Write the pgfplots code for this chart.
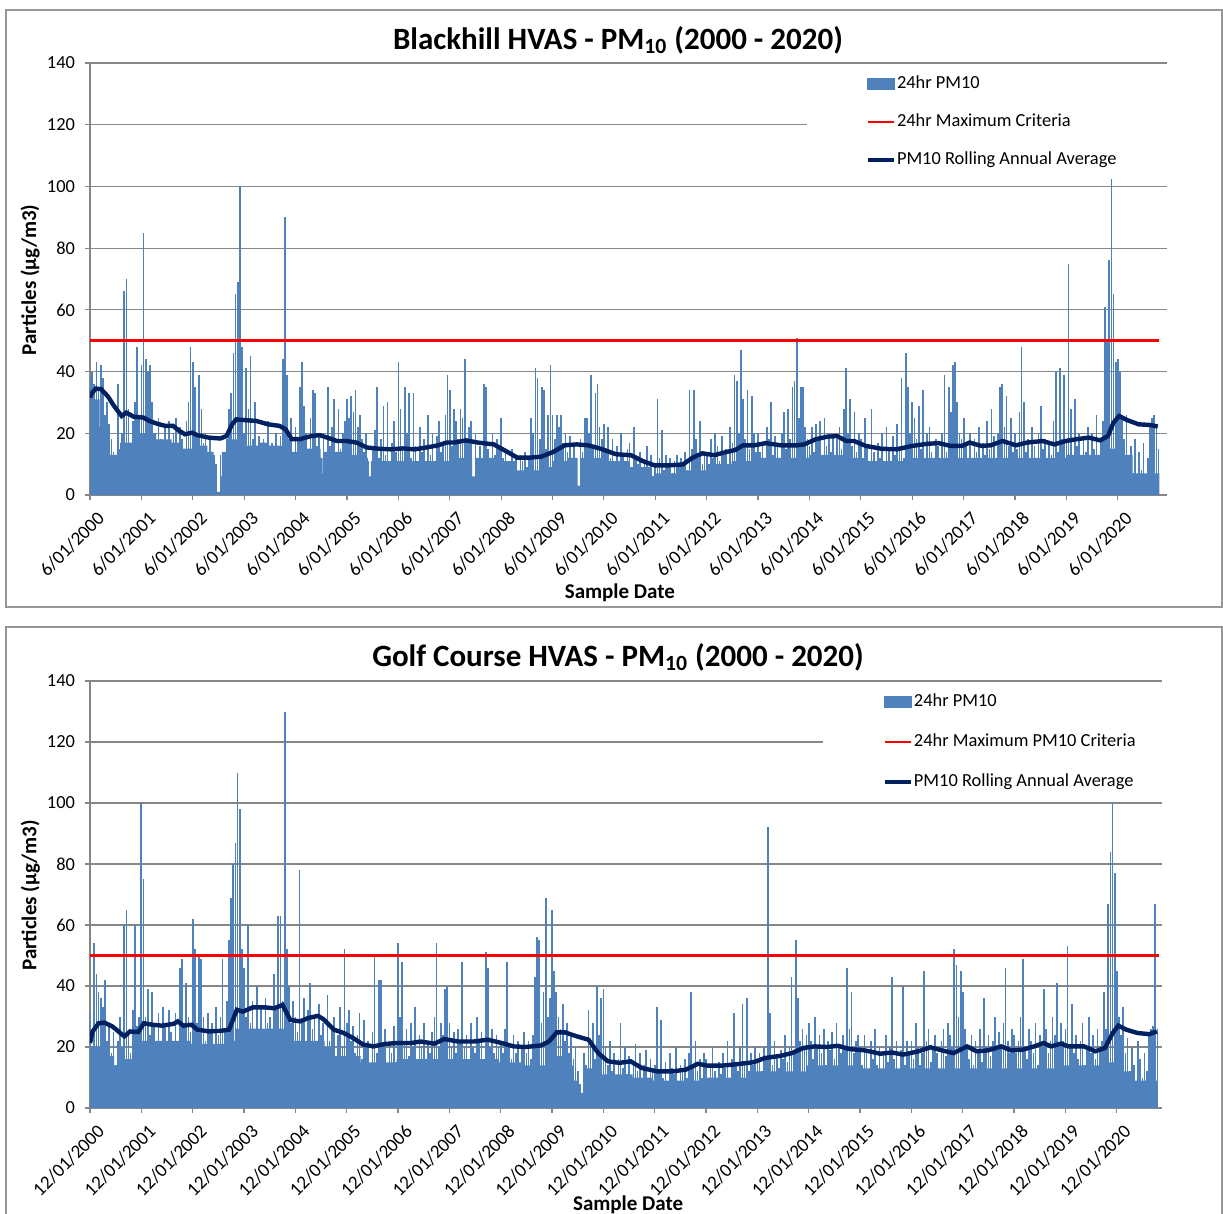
\documentclass[border=0pt]{standalone}
\usepackage{pgfplots}
\pgfplotsset{compat=1.18}
\usepackage{pgfplotstable}
\usepackage{fontspec}
\setmainfont{Carlito}
\definecolor{barblue}{RGB}{79,129,189}
\definecolor{navy}{RGB}{0,32,96}
\definecolor{gridgray}{RGB}{134,134,134}
\definecolor{framegray}{RGB}{150,150,150}

% Blackhill 24hr PM10, 24 samples per year from 6/01/2000
\pgfplotstableread[row sep=\\,header=false]{
38\\40\\36\\43\\35\\42\\38\\26\\30\\23\\18\\14\\12\\36\\15\\20\\66\\70\\28\\14\\24\\30\\48\\26\\
42\\85\\44\\40\\42\\30\\20\\14\\25\\18\\10\\22\\16\\24\\12\\20\\25\\14\\22\\18\\11\\24\\30\\48\\
43\\35\\20\\39\\28\\17\\20\\14\\18\\12\\13\\10\\0\\13\\11\\8\\18\\28\\33\\46\\65\\69\\100\\48\\
0\\41\\28\\45\\18\\30\\14\\19\\13\\18\\15\\24\\12\\17\\11\\20\\14\\19\\44\\90\\39\\18\\25\\14\\
22\\18\\35\\43\\29\\20\\14\\25\\34\\33\\16\\20\\12\\18\\7\\35\\16\\22\\31\\13\\28\\15\\20\\24\\
31\\25\\32\\27\\34\\22\\26\\18\\14\\20\\11\\5\\15\\21\\35\\12\\18\\29\\13\\30\\10\\17\\24\\14\\
43\\28\\15\\35\\20\\33\\12\\33\\16\\10\\22\\14\\18\\8\\26\\13\\20\\11\\19\\24\\14\\17\\26\\39\\
34\\16\\28\\24\\18\\28\\25\\44\\18\\22\\24\\5\\20\\10\\16\\12\\36\\35\\15\\8\\20\\13\\18\\16\\
25\\12\\14\\8\\10\\15\\9\\12\\6\\13\\11\\14\\9\\12\\25\\20\\41\\38\\18\\35\\34\\15\\26\\42\\
26\\18\\26\\22\\26\\17\\20\\14\\19\\12\\16\\11\\2\\18\\14\\25\\25\\20\\39\\16\\33\\36\\22\\18\\
23\\14\\22\\12\\18\\10\\16\\11\\20\\13\\9\\15\\17\\8\\22\\12\\10\\14\\7\\11\\16\\9\\13\\6\\
9\\31\\12\\21\\8\\13\\10\\12\\7\\11\\13\\9\\12\\10\\14\\8\\34\\15\\34\\18\\12\\24\\10\\14\\
14\\9\\18\\12\\20\\16\\11\\19\\13\\15\\10\\22\\17\\39\\37\\20\\47\\31\\18\\34\\15\\32\\20\\14\\
20\\14\\17\\12\\22\\18\\30\\13\\19\\16\\11\\20\\27\\15\\28\\18\\35\\37\\51\\25\\35\\35\\22\\18\\
16\\22\\14\\23\\18\\24\\12\\25\\16\\20\\14\\19\\10\\18\\22\\15\\28\\41\\20\\31\\16\\27\\14\\20\\
18\\12\\25\\16\\10\\28\\14\\9\\17\\12\\20\\11\\22\\15\\8\\19\\13\\23\\16\\38\\12\\46\\35\\20\\
30\\25\\18\\29\\15\\34\\12\\20\\22\\14\\10\\18\\16\\8\\20\\39\\14\\35\\27\\42\\43\\30\\20\\18\\
25\\16\\12\\20\\9\\18\\14\\22\\10\\17\\13\\24\\15\\28\\19\\12\\20\\35\\36\\22\\32\\16\\25\\14\\
20\\15\\27\\48\\30\\14\\18\\10\\22\\16\\12\\20\\29\\15\\18\\9\\17\\13\\24\\40\\14\\41\\18\\39\\
18\\75\\28\\12\\31\\16\\20\\10\\18\\14\\22\\12\\20\\15\\26\\13\\18\\24\\61\\50\\76\\103\\65\\43\\
44\\40\\25\\18\\26\\10\\16\\7\\18\\6\\14\\8\\17\\6\\12\\22\\25\\26\\23\\15\\
}\blackbars

% Golf Course 24hr PM10, 24 samples per year from 12/01/2000
\pgfplotstableread[row sep=\\,header=false]{
31\\20\\54\\44\\38\\36\\33\\42\\22\\28\\18\\25\\14\\22\\30\\20\\60\\65\\24\\18\\32\\60\\27\\30\\
100\\75\\30\\39\\24\\38\\28\\20\\31\\16\\33\\27\\18\\32\\25\\22\\31\\20\\46\\49\\28\\41\\30\\25\\
62\\52\\28\\50\\49\\30\\22\\31\\25\\28\\20\\33\\24\\30\\49\\26\\35\\55\\69\\80\\87\\110\\98\\52\\
46\\30\\60\\28\\35\\22\\40\\26\\33\\24\\36\\28\\30\\25\\44\\32\\63\\63\\35\\130\\52\\40\\28\\35\\
30\\25\\78\\28\\36\\22\\32\\41\\26\\30\\20\\34\\24\\28\\18\\37\\22\\26\\30\\0\\24\\33\\20\\52\\
28\\32\\22\\27\\18\\24\\31\\16\\29\\20\\22\\14\\25\\50\\18\\42\\42\\20\\26\\12\\22\\18\\27\\15\\
54\\30\\48\\22\\26\\17\\28\\20\\33\\15\\24\\20\\28\\16\\22\\18\\25\\30\\54\\20\\28\\24\\39\\40\\
28\\20\\25\\18\\26\\22\\48\\20\\24\\16\\28\\20\\18\\30\\22\\25\\16\\51\\46\\20\\26\\18\\24\\20\\
22\\18\\26\\48\\20\\16\\24\\18\\22\\14\\20\\25\\18\\22\\16\\24\\43\\56\\55\\28\\38\\69\\30\\36\\
65\\45\\38\\30\\26\\34\\22\\28\\18\\24\\16\\20\\12\\8\\5\\18\\14\\32\\22\\28\\16\\40\\24\\36\\
39\\20\\14\\22\\12\\18\\10\\16\\28\\13\\20\\11\\17\\9\\15\\21\\12\\18\\8\\14\\19\\10\\16\\12\\
14\\33\\12\\29\\10\\15\\8\\18\\13\\11\\20\\9\\14\\12\\16\\10\\18\\38\\14\\22\\12\\16\\10\\18\\
16\\10\\14\\20\\12\\9\\15\\11\\18\\13\\22\\10\\16\\31\\14\\12\\20\\34\\15\\36\\12\\18\\14\\20\\
15\\18\\12\\20\\16\\92\\31\\14\\22\\17\\13\\19\\16\\24\\15\\20\\43\\18\\55\\36\\22\\26\\20\\24\\
28\\22\\16\\30\\20\\24\\18\\26\\14\\22\\19\\25\\16\\28\\21\\18\\24\\20\\46\\26\\38\\18\\22\\24\\
20\\14\\24\\18\\12\\22\\16\\26\\14\\20\\11\\18\\24\\15\\20\\43\\16\\22\\12\\19\\40\\14\\22\\18\\
22\\16\\28\\20\\14\\18\\45\\22\\26\\15\\20\\24\\18\\12\\22\\26\\17\\28\\24\\20\\52\\47\\30\\45\\
38\\26\\20\\16\\24\\14\\22\\18\\26\\15\\36\\20\\24\\17\\22\\30\\19\\25\\20\\28\\46\\22\\18\\26\\
24\\18\\22\\30\\49\\20\\16\\26\\22\\18\\28\\14\\24\\20\\39\\26\\18\\22\\30\\24\\41\\20\\28\\22\\
26\\53\\20\\34\\18\\24\\16\\22\\28\\14\\20\\30\\18\\24\\16\\26\\20\\22\\38\\26\\67\\84\\100\\77\\
45\\30\\24\\33\\18\\23\\12\\20\\14\\8\\22\\16\\10\\18\\12\\24\\26\\27\\67\\26\\
}\golfbars

\pgfplotsset{
  panel/.style={
    scale only axis, anchor=south west,
    ymin=0, ymax=140, ytick={0,20,...,140},
    enlargelimits=false,
    axis x line*=bottom, axis y line*=left,
    axis line style={-, draw=gridgray, line width=0.7pt},
    ymajorgrids, grid style={gridgray, line width=0.6pt},
    tick align=outside, major tick length=2.5pt,
    tick style={gridgray, line width=0.6pt},
    /pgf/number format/assume math mode=true,
    yticklabel style={font=\fontsize{9.2}{11}\selectfont, xshift=-1.5pt},
    xticklabel style={font=\fontsize{9.5}{11}\selectfont, xshift=3pt, yshift=-3.5pt, rotate=45, anchor=north east, inner sep=1pt},
    xlabel={Sample Date}, ylabel={Particles (µg/m3)},
    label style={font=\fontsize{10.5}{12}\selectfont\bfseries},
    ylabel style={at={(axis description cs:-0.0557,0.498)}, anchor=center},
    legend cell align=left,
  },
  barimg/.style={legend image code/.code={\fill[barblue] (0pt,-2.5pt) rectangle (13pt,2.5pt);}},
  redimg/.style={legend image code/.code={\draw[red, line width=1.3pt] (0pt,0pt) -- (13pt,0pt);}},
  navyimg/.style={legend image code/.code={\draw[navy, line width=2.2pt] (0pt,0pt) -- (13pt,0pt);}},
}

\begin{document}
\begin{tikzpicture}
\useasboundingbox (0pt,0pt) rectangle (611.5pt,-607pt);
\draw[framegray, line width=0.6pt] (3pt,-5pt) rectangle (611pt,-303.5pt);
\draw[framegray, line width=0.6pt] (3pt,-608pt) -- (3pt,-313.5pt) -- (611pt,-313.5pt) -- (611pt,-608pt);
\node[font=\fontsize{15.5}{18}\selectfont\bfseries] at (309pt,-20pt) {Blackhill HVAS - PM\textsubscript{10} (2000 - 2020)};
\node[font=\fontsize{15.5}{18}\selectfont\bfseries] at (309pt,-328.5pt) {Golf Course HVAS - PM\textsubscript{10} (2000 - 2020)};

\begin{axis}[panel, at={(45pt,-247.5pt)}, width=538.5pt, height=216pt,
  xmin=2000.014, xmax=2020.97,
  xtick={2000.014,2001.014,...,2020.02},
  xticklabels={6/01/2000,6/01/2001,6/01/2002,6/01/2003,6/01/2004,6/01/2005,6/01/2006,6/01/2007,6/01/2008,6/01/2009,6/01/2010,6/01/2011,6/01/2012,6/01/2013,6/01/2014,6/01/2015,6/01/2016,6/01/2017,6/01/2018,6/01/2019,6/01/2020},
  xlabel style={at={(axis description cs:0.492,-0.227)}, anchor=center},
  legend style={at={(0.665,0.995)}, anchor=north west, draw=none, fill=white,
    inner xsep=29.5pt, inner ysep=4.5pt, font=\fontsize{9.2}{11}\selectfont,
    row sep=9.5pt, nodes={inner sep=0.5pt, text height=6.5pt, text depth=2pt}},
]
\addplot[const plot, fill=barblue, draw=none, forget plot] coordinates {
(2000.0,31)(2000.2,22)(2000.3,13)(2000.6,17)(2000.95,20)(2001.3,18)(2001.6,17)(2001.8,15)(2002.0,16)(2002.3,14)(2002.42,11)(2002.45,1)(2002.55,6)(2002.58,14)(2002.75,18)(2002.95,20)(2003.05,16)(2003.3,17)(2003.5,16)(2003.75,17)(2003.9,14)(2004.2,15)(2004.5,12)(2004.54,7)(2004.57,14)(2005.0,13)(2005.3,12)(2005.42,6)(2005.48,11)(2006.0,11)(2007.0,12)(2007.45,6)(2007.52,12)(2008.0,11)(2008.3,8)(2008.8,9)(2009.0,11)(2009.3,12)(2009.5,3)(2009.56,12)(2010.0,11)(2010.5,9)(2010.85,6)(2011.0,7)(2011.6,8)(2012.0,10)(2012.5,11)(2013.0,12)(2014.0,13)(2014.8,12)(2015.0,11)(2016.0,12)(2017.0,12)(2018.0,12)(2019.0,13)(2019.7,15)(2020.0,13)(2020.3,7)(2020.82,7)
} \closedcycle;
\addplot[ycomb, draw=barblue, line width=0.85pt, mark=none, barimg]
  table[x expr=\coordindex/24+2000.014, y index=0] {\blackbars};
\addlegendentry{24hr PM10}
\addplot[red, line width=1.3pt, mark=none, redimg] coordinates {(2000.014,50) (2020.81,50)};
\addlegendentry{24hr Maximum Criteria}
\addplot[navy, line width=2.2pt, mark=none, navyimg] coordinates {
(2000.014,31.6)(2000.05,33)(2000.13,34.5)(2000.23,34.3)(2000.36,32)(2000.48,28.9)(2000.63,25.6)(2000.72,26.7)(2000.86,25.4)(2001.05,25.1)(2001.17,24)(2001.32,23.1)(2001.48,22.4)(2001.63,22.4)(2001.75,20.8)(2001.86,19.7)(2002.0,20.2)(2002.1,19.4)(2002.32,18.6)(2002.55,18.3)(2002.67,19.1)(2002.78,22.9)(2002.86,24.5)(2003.0,24.3)(2003.25,24)(2003.48,22.9)(2003.7,22.4)(2003.82,21.3)(2003.94,18.1)(2004.1,18.1)(2004.32,19.1)(2004.48,19.4)(2004.63,18.6)(2004.82,17.5)(2005.0,17.5)(2005.2,17)(2005.4,15.4)(2005.63,15)(2005.87,14.8)(2006.1,15.1)(2006.33,14.8)(2006.56,15.4)(2006.79,16.1)(2006.95,17)(2007.1,17)(2007.33,17.7)(2007.56,17)(2007.87,16.4)(2008.1,14.3)(2008.33,12.1)(2008.56,12.1)(2008.79,12.4)(2009.02,13.9)(2009.25,16.1)(2009.48,16.4)(2009.71,16.1)(2009.95,15)(2010.25,13.2)(2010.54,12.9)(2010.77,11)(2011.0,9.6)(2011.29,9.6)(2011.55,9.9)(2011.74,12.1)(2011.93,13.5)(2012.16,12.9)(2012.34,13.7)(2012.57,14.6)(2012.72,16.1)(2012.94,16.1)(2013.16,16.8)(2013.46,16.1)(2013.76,16.1)(2013.91,16.4)(2014.14,18.1)(2014.36,18.9)(2014.55,19.1)(2014.73,17.5)(2014.88,17.5)(2015.11,15.9)(2015.41,15)(2015.71,14.8)(2016.01,15.9)(2016.31,16.6)(2016.53,16.8)(2016.76,15.9)(2016.98,15.9)(2017.13,17)(2017.36,15.9)(2017.54,16.1)(2017.77,17.5)(2018.03,16.1)(2018.25,17)(2018.55,17.5)(2018.78,16.4)(2019.0,17.5)(2019.22,18.1)(2019.45,18.6)(2019.67,17.7)(2019.82,19.1)(2019.93,23.5)(2020.04,25.6)(2020.19,24.3)(2020.42,22.9)(2020.64,22.7)(2020.79,22.2)
};
\addlegendentry{PM10 Rolling Annual Average}
\end{axis}

\begin{axis}[panel, at={(45pt,-554pt)}, width=536pt, height=213.5pt,
  xmin=2000.03, xmax=2020.91,
  xtick={2000.03,2001.03,...,2020.04},
  xticklabels={12/01/2000,12/01/2001,12/01/2002,12/01/2003,12/01/2004,12/01/2005,12/01/2006,12/01/2007,12/01/2008,12/01/2009,12/01/2010,12/01/2011,12/01/2012,12/01/2013,12/01/2014,12/01/2015,12/01/2016,12/01/2017,12/01/2018,12/01/2019,12/01/2020},
  xlabel style={at={(axis description cs:0.502,-0.227)}, anchor=center},
  legend style={at={(0.683,0.995)}, anchor=north west, draw=none, fill=white,
    inner xsep=30pt, inner ysep=4.5pt, font=\fontsize{9.2}{11}\selectfont,
    row sep=10.5pt, nodes={inner sep=0.5pt, text height=6.5pt, text depth=2pt}},
]
\addplot[const plot, fill=barblue, draw=none, forget plot] coordinates {
(2000.03,20)(2000.3,17)(2000.5,14)(2000.7,16)(2001.0,22)(2002.0,21)(2002.7,22)(2002.85,26)(2003.9,22)(2004.6,20)(2004.8,17)(2005.3,15)(2006.0,16)(2007.0,16)(2008.0,15)(2008.5,14)(2009.0,17)(2009.3,14)(2009.45,9)(2009.55,5)(2009.65,13)(2010.0,11)(2010.6,10)(2011.0,9)(2012.0,10)(2013.0,12)(2014.0,14)(2015.0,13)(2016.0,13)(2017.0,13)(2018.0,13)(2019.0,14)(2019.7,15)(2020.0,12)(2020.3,9)(2020.83,9)
} \closedcycle;
\addplot[ycomb, draw=barblue, line width=0.85pt, mark=none, barimg]
  table[x expr=\coordindex/24+2000.03, y index=0] {\golfbars};
\addlegendentry{24hr PM10}
\addplot[red, line width=1.3pt, mark=none, redimg] coordinates {(2000.03,50) (2020.85,50)};
\addlegendentry{24hr Maximum PM10 Criteria}
\addplot[navy, line width=2.2pt, mark=none, navyimg] coordinates {
(2000.03,21.3)(2000.08,25.1)(2000.2,27.8)(2000.31,28)(2000.47,26.7)(2000.62,24.6)(2000.7,23.5)(2000.81,25.1)(2000.97,24.9)(2001.08,27.8)(2001.24,27.3)(2001.43,27)(2001.66,27.6)(2001.74,28.4)(2001.85,27)(2002.01,27.3)(2002.12,25.7)(2002.35,25.1)(2002.58,25.3)(2002.74,25.7)(2002.89,32.2)(2003.01,31.6)(2003.2,33)(2003.43,33)(2003.62,32.7)(2003.78,33.8)(2003.93,28.9)(2004.12,28.4)(2004.28,29.5)(2004.47,30.2)(2004.58,29.1)(2004.78,25.7)(2004.97,24.6)(2005.16,22.9)(2005.35,20.8)(2005.55,20.2)(2005.78,21)(2006.01,21.3)(2006.28,21.3)(2006.47,21.8)(2006.74,21.1)(2006.93,22.6)(2007.2,21.8)(2007.51,21.8)(2007.78,22.4)(2008.05,21.3)(2008.28,20.2)(2008.51,20)(2008.81,20.5)(2008.97,21.8)(2009.12,24.8)(2009.28,24.8)(2009.51,23.5)(2009.74,22.4)(2009.93,18)(2010.12,15.3)(2010.34,14.8)(2010.56,15.3)(2010.78,13.1)(2011.08,12)(2011.38,12)(2011.64,12.6)(2011.87,14.5)(2012.05,13.9)(2012.35,13.9)(2012.65,14.4)(2012.95,15)(2013.18,16.4)(2013.48,17.1)(2013.7,18)(2013.93,19.7)(2014.15,20.2)(2014.38,20)(2014.6,20.4)(2014.83,19.3)(2015.12,18.9)(2015.42,17.8)(2015.65,18.2)(2015.87,17.5)(2016.17,18.6)(2016.4,19.9)(2016.62,18.9)(2016.85,18)(2017.11,20.2)(2017.3,18.6)(2017.52,18.9)(2017.78,20.2)(2017.97,18.9)(2018.19,19.1)(2018.42,20.2)(2018.6,21.3)(2018.75,20.2)(2018.94,21.1)(2019.09,20.2)(2019.39,20.2)(2019.61,18.6)(2019.8,19.7)(2019.95,24.6)(2020.06,27)(2020.21,25.7)(2020.43,24.6)(2020.66,24.2)(2020.81,25.1)
};
\addlegendentry{PM10 Rolling Annual Average}
\end{axis}
\end{tikzpicture}
\end{document}
